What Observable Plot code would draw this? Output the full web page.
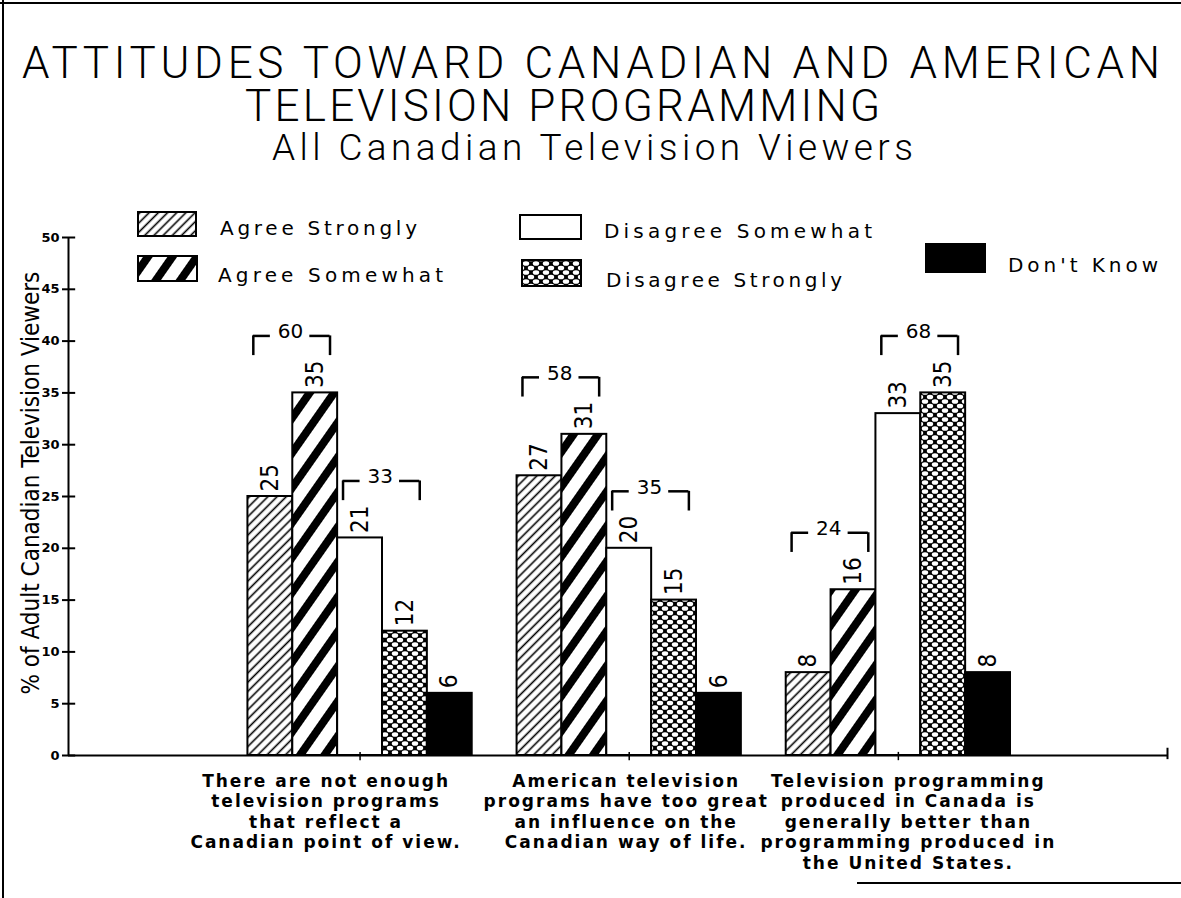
<!DOCTYPE html>
<html><head><meta charset="utf-8">
<script src="https://cdn.jsdelivr.net/npm/d3@7"></script>
<script src="https://cdn.jsdelivr.net/npm/@observablehq/plot@0.6"></script>
<style>
body{margin:0;background:#fff;}
#page{position:relative;width:1181px;height:898px;overflow:hidden;background:#fff;color:#000;}
.abs{position:absolute;white-space:nowrap;line-height:1;}
.title{font-family:Roboto,"DejaVu Sans",sans-serif;font-weight:300;}
.leg{font-family:"DejaVu Sans",sans-serif;font-size:20px;}
.sw{position:absolute;}
#chart{position:absolute;left:0;top:190px;width:1181px;}
g[aria-label="bracket total"] text{letter-spacing:4px}
g[aria-label="x-axis tick label"] text{letter-spacing:2px}
</style></head>
<body>
<svg width="0" height="0" style="position:absolute">
<defs>
<pattern id="pAS" patternUnits="userSpaceOnUse" width="6.5" height="10" patternTransform="rotate(45)">
<rect width="6.5" height="10" fill="#fff"/><line x1="3.25" y1="0" x2="3.25" y2="10" stroke="#000" stroke-width="1.6"/>
</pattern>
<pattern id="pASo" patternUnits="userSpaceOnUse" width="20" height="20" patternTransform="rotate(35)">
<rect width="20" height="20" fill="#fff"/><rect x="6" y="0" width="8" height="20" fill="#000"/>
</pattern>
<pattern id="pDSt" patternUnits="userSpaceOnUse" width="10" height="9">
<rect width="10" height="9" fill="#000"/>
<ellipse cx="0" cy="0" rx="3.2" ry="2.3" fill="#fff"/><ellipse cx="10" cy="0" rx="3.2" ry="2.3" fill="#fff"/>
<ellipse cx="0" cy="9" rx="3.2" ry="2.3" fill="#fff"/><ellipse cx="10" cy="9" rx="3.2" ry="2.3" fill="#fff"/>
<ellipse cx="5" cy="4.5" rx="3.2" ry="2.3" fill="#fff"/>
</pattern>
</defs></svg>
<div id="page">
  <div style="position:absolute;left:2px;top:0;width:2px;height:898px;background:#000"></div>
  <div style="position:absolute;left:0;top:2px;width:1181px;height:2px;background:#000"></div>
  <div style="position:absolute;left:857px;top:882px;width:324px;height:2px;background:#000"></div>
  <div class="abs title" id="title" style="left:22px;top:41.5px;font-size:44px;line-height:43px"><span id="t1">ATTITUDES TOWARD CANADIAN AND AMERICAN</span><br><span id="t2" style="margin-left:223px">TELEVISION PROGRAMMING</span><br><span id="t3" style="margin-left:250px;font-size:37px;position:relative;top:-4px">All Canadian Television Viewers</span></div>
  <div id="legend"></div>
  <div id="chart"></div>
</div>
<script>
// ---- data ----
const questionLines = [
  ["There are not enough", "television programs", "that reflect a", "Canadian point of view."],
  ["American television", "programs have too great", "an influence on the", "Canadian way of life."],
  ["Television programming", "produced in Canada is", "generally better than", "programming produced in", "the United States."]
];
const responses = ["Agree Strongly", "Agree Somewhat", "Disagree Somewhat", "Disagree Strongly", "Don't Know"];
const agreeStrongly = [25, 27, 8];
const agreeSomewhat = [35, 31, 16];
const disagreeSomewhat = [21, 20, 33];
const disagreeStrongly = [12, 15, 35];
const dontKnow = [6, 6, 8];
const agreeTotals = [60, 58, 24];
const disagreeTotals = [33, 35, 68];
const yTicks = [0, 5, 10, 15, 20, 25, 30, 35, 40, 45, 50];
const yLabel = "% of Adult Canadian Television Viewers";

// ---- styles / layout ----
const series = [agreeStrongly, agreeSomewhat, disagreeSomewhat, disagreeStrongly, dontKnow];
const fills = ["url(#pAS)", "url(#pASo)", "#fff", "url(#pDSt)", "#000"];
const LEAD = 4, STEP = 6, XMAX = 24.5;
const labelNudge = [-34, -3, 10];
const narrow = "'Liberation Sans Narrow', 'DejaVu Sans Condensed', 'Arial Narrow', sans-serif";
const legendLayout = [
  {sx: 137, sy: 211, sw: 60, sh: 26, tx: 220, ty: 218, tw: 197},
  {sx: 137, sy: 255, sw: 61, sh: 27, tx: 218, ty: 265, tw: 225},
  {sx: 519, sy: 214, sw: 63, sh: 26, tx: 604, ty: 221, tw: 268},
  {sx: 521, sy: 259, sw: 61, sh: 28, tx: 606, ty: 270, tw: 236},
  {sx: 925, sy: 243, sw: 61, sh: 30, tx: 1008, ty: 255, tw: 150}
];

function fit(el, target) {
  el.style.letterSpacing = "0px";
  const w = el.getBoundingClientRect().width;
  const n = el.textContent.length;
  el.style.letterSpacing = ((target - w) / (n - 1)) + "px";
}

// legend
const legend = document.getElementById("legend");
responses.forEach((r, i) => {
  const L = legendLayout[i];
  const ns = "http://www.w3.org/2000/svg";
  const s = document.createElementNS(ns, "svg");
  s.setAttribute("class", "sw");
  s.setAttribute("width", L.sw); s.setAttribute("height", L.sh);
  s.style.left = L.sx + "px"; s.style.top = L.sy + "px";
  const rc = document.createElementNS(ns, "rect");
  rc.setAttribute("x", 1); rc.setAttribute("y", 1);
  rc.setAttribute("width", L.sw - 2); rc.setAttribute("height", L.sh - 2);
  rc.setAttribute("fill", fills[i]); rc.setAttribute("stroke", "#000"); rc.setAttribute("stroke-width", 2);
  s.appendChild(rc);
  legend.appendChild(s);
  const t = document.createElement("div");
  t.className = "abs leg";
  t.style.left = L.tx + "px"; t.style.top = L.ty + "px";
  t.textContent = r;
  legend.appendChild(t);
  fit(t, L.tw);
});
fit(document.getElementById("t1"), 1138);
fit(document.getElementById("t2"), 635);
fit(document.getElementById("t3"), 641);

// rows
const rows = [];
questionLines.forEach((q, g) => series.forEach((vals, c) => {
  const x1 = LEAD + g * STEP + c;
  rows.push({g, c, value: vals[g], x1, x2: x1 + 1});
}));
const brackets = [];
questionLines.forEach((q, g) => {
  brackets.push({a: LEAD + g * STEP, total: agreeTotals[g], L: Math.max(agreeStrongly[g], agreeSomewhat[g]) + 5.5});
  brackets.push({a: LEAD + g * STEP + 2, total: disagreeTotals[g], L: Math.max(disagreeSomewhat[g], disagreeStrongly[g]) + 5.5});
});
const centers = questionLines.map((q, g) => LEAD + g * STEP + 2.5);

const chart = Plot.plot({
  width: 1181, height: 700,
  marginLeft: 68, marginRight: 14, marginTop: 47, marginBottom: 135,
  x: {domain: [0, XMAX]},
  y: {domain: [0, 50]},
  style: {background: "transparent", color: "#000", fontFamily: "DejaVu Sans, sans-serif", overflow: "visible"},
  marks: [
    ...responses.map((r, c) => Plot.rectY(rows.filter(d => d.c === c), {
      x1: "x1", x2: "x2", y: "value", fill: fills[c], stroke: "#000", strokeWidth: 2
    })),
    Plot.text(rows, {
      x: d => (d.x1 + d.x2) / 2, y: "value", text: d => String(d.value),
      rotate: -90, textAnchor: "start", dy: -5, fontFamily: narrow, fontSize: 24
    }),
    // axes lines
    Plot.ruleX([0], {y1: 0, y2: 50, strokeWidth: 2}),
    Plot.ruleY([0], {strokeWidth: 2}),
    Plot.ruleY(yTicks, {x1: 0, x2: 0.16, y: d => d, strokeWidth: 2}),
    Plot.ruleX([XMAX], {y1: -0.4, y2: 0.7, strokeWidth: 2}),
    Plot.ruleX(centers, {y1: -0.5, y2: 0.3, strokeWidth: 1.5}),
    Plot.axisY({ticks: yTicks, tickSize: 6, tickPadding: 3, strokeWidth: 2, fontSize: 13, fontWeight: "bold", fontFamily: "DejaVu Sans, sans-serif", label: null}),
    ...questionLines.map((lines, g) => Plot.axisX({
      ticks: [centers[g]], tickFormat: () => lines.join("\n"), tickSize: 0, tickPadding: 17,
      dx: labelNudge[g], fontSize: 17, fontWeight: "bold", fontFamily: "DejaVu Sans, sans-serif",
      lineHeight: 1.2, label: null
    })),
    Plot.text([yLabel], {frameAnchor: "left", text: d => d, rotate: -90, textAnchor: "start", dx: -37, dy: 198, fontFamily: narrow, fontSize: 24, ariaLabel: "y-title"}),
    // brackets
    Plot.ruleX(brackets, {x: d => d.a + 0.12, y1: d => d.L - 1.9, y2: "L", strokeWidth: 2.5}),
    Plot.ruleX(brackets, {x: d => d.a + 1.83, y1: d => d.L - 1.9, y2: "L", strokeWidth: 2.5}),
    Plot.ruleY(brackets, {y: "L", x1: d => d.a + 0.12, x2: d => d.a + 0.5, strokeWidth: 2.5}),
    Plot.ruleY(brackets, {y: "L", x1: d => d.a + 1.38, x2: d => d.a + 1.83, strokeWidth: 2.5}),
    Plot.text(brackets, {x: d => d.a + 0.95, y: "L", text: d => String(d.total), dy: -4, fontSize: 20, fontFamily: "DejaVu Sans, sans-serif", ariaLabel: "bracket total"})
  ]
});
document.getElementById("chart").appendChild(chart);
d3.select(chart).selectAll('g[aria-label="y-title"] text').attr("textLength", 450).attr("lengthAdjust", "spacing");
</script>
</body></html>
